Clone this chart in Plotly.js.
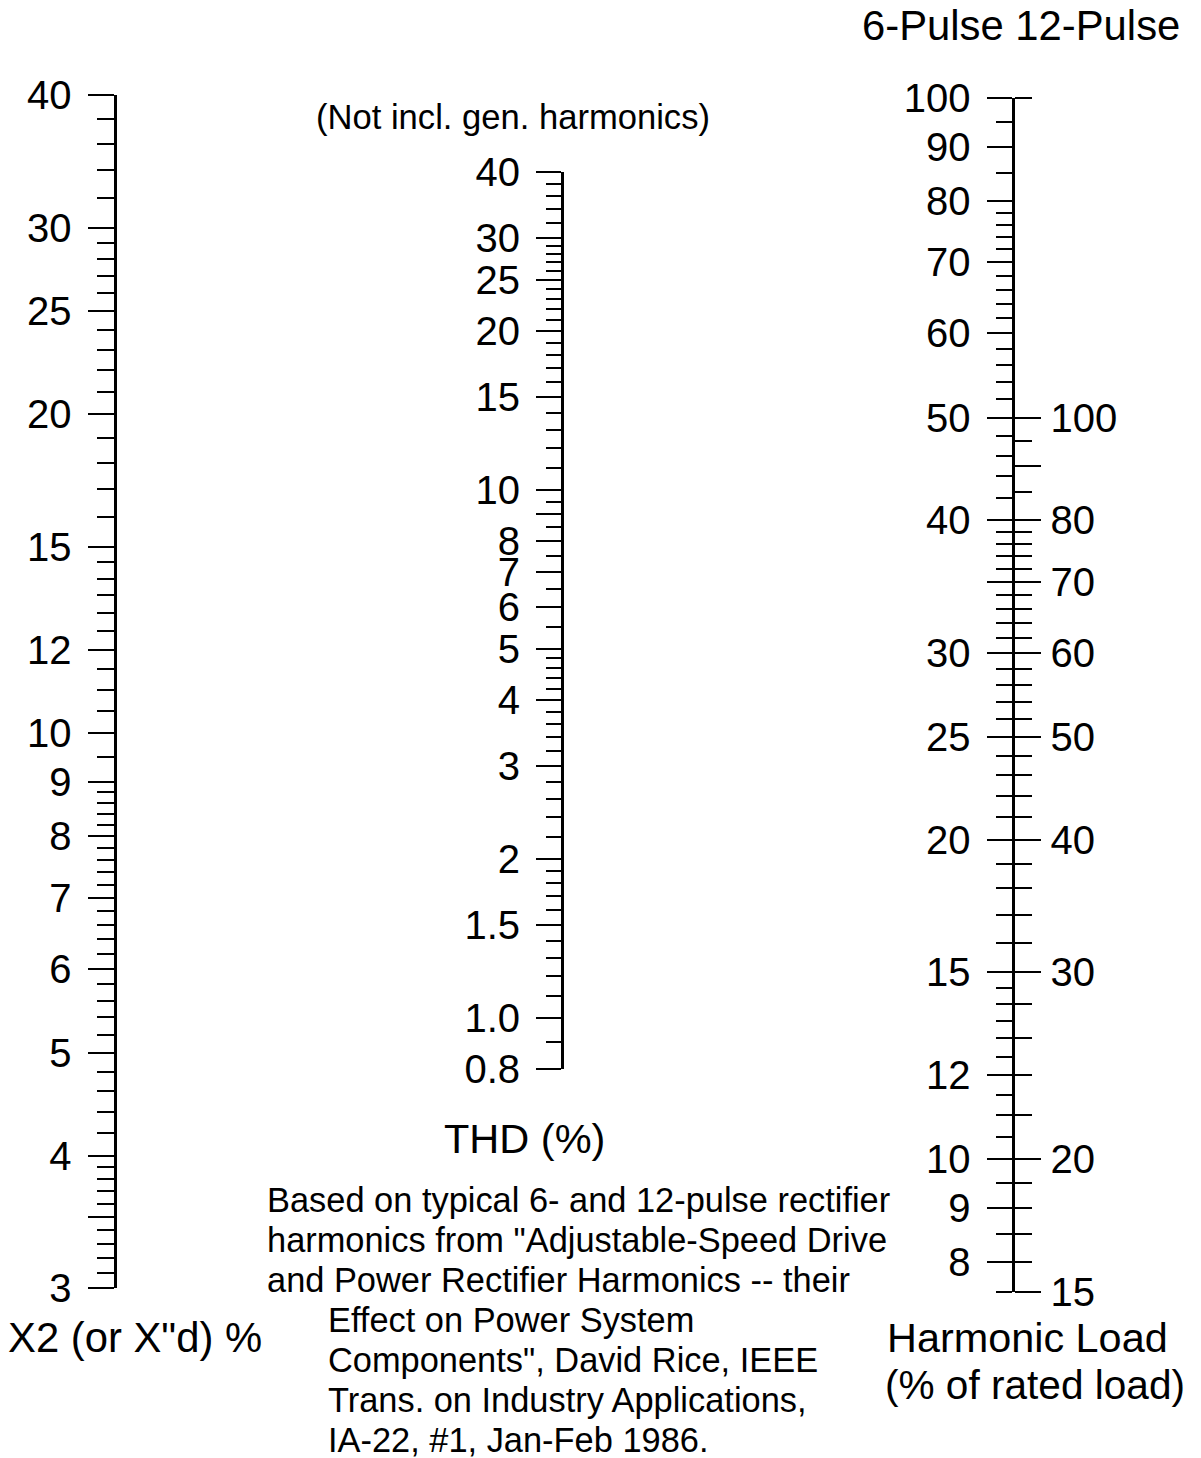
<!DOCTYPE html>
<html><head><meta charset="utf-8">
<script src="https://cdn.plot.ly/plotly-3.0.1.min.js"></script>
<style>html,body{margin:0;padding:0;background:#fff;} #chart{width:1201px;height:1458px;}</style>
</head><body><div id="chart"></div>
<script>
const W = 1201, H = 1458;
const FONT = 'Liberation Sans, Arial, Helvetica, sans-serif';

// ---- Left scale: X2 (or X"d) %
const x2Range = [3, 40];
const x2Labeled = [3, 4, 5, 6, 7, 8, 9, 10, 12, 15, 20, 25, 30, 40];
const x2Text = ['3', '4', '5', '6', '7', '8', '9', '10', '12', '15', '20', '25', '30', '40'];
const x2Unlabeled = [3.5];
const x2Minor = [3.1, 3.2, 3.3, 3.4, 3.6, 3.7, 3.8, 3.9, 4.2, 4.4, 4.6, 4.8, 5.2, 5.4, 5.6, 5.8,
  6.2, 6.4, 6.6, 6.8, 7.2, 7.4, 7.6, 7.8, 8.2, 8.4, 8.6, 8.8, 9.5, 10.5, 11, 11.5,
  12.5, 13, 13.5, 14, 14.5, 16, 17, 18, 19, 21, 22, 23, 24, 26, 27, 28, 29, 32, 34, 36, 38];

// ---- Middle scale: THD (%)
const thdRange = [0.8, 40];
const thdLabeled = [0.8, 1.0, 1.5, 2, 3, 4, 5, 6, 7, 8, 10, 15, 20, 25, 30, 40];
const thdText = ['0.8', '1.0', '1.5', '2', '3', '4', '5', '6', '7', '8', '10', '15', '20', '25', '30', '40'];
const thdUnlabeled = [9];
const thdMinor = [0.9, 1.1, 1.2, 1.3, 1.4, 1.6, 1.7, 1.8, 1.9, 2.2, 2.4, 2.6, 2.8, 3.2, 3.4, 3.6, 3.8,
  4.2, 4.4, 4.6, 4.8, 5.5, 6.5, 7.5, 8.5, 9.5, 11, 12, 13, 14, 16, 17, 18, 19, 21, 22, 23, 24,
  26, 27, 28, 29, 32, 34, 36, 38];

// ---- Right scale, left side: 6-Pulse harmonic load
const p6Range = [7.5, 100];
const p6Labeled = [8, 9, 10, 12, 15, 20, 25, 30, 40, 50, 60, 70, 80, 90, 100];
const p6Text = ['8', '9', '10', '12', '15', '20', '25', '30', '40', '50', '60', '70', '80', '90', '100'];
const p6Unlabeled = [35];
const p6Minor = [7.5, 8.5, 9.5, 10.5, 11, 11.5, 12.5, 13, 13.5, 14, 14.5, 16, 17, 18, 19, 21, 22, 23, 24,
  26, 27, 28, 29, 31, 32, 33, 34, 36, 37, 38, 39, 42, 44, 46, 48, 52, 54, 56, 58, 62, 64, 66, 68,
  72, 74, 76, 78, 85, 95];

// ---- Right scale, right side: 12-Pulse harmonic load
const p12Range = [15, 200];
const p12Labeled = [15, 20, 30, 40, 50, 60, 70, 80, 100];
const p12Text = ['15', '20', '30', '40', '50', '60', '70', '80', '100'];
const p12Unlabeled = [90];
const p12Minor = [16, 17, 18, 19, 22, 24, 26, 28, 32, 34, 36, 38, 42, 44, 46, 48, 52, 54, 56, 58,
  62, 64, 66, 68, 72, 74, 76, 78, 85, 95, 200];

// ---- Texts
const topRightLabel = '6-Pulse 12-Pulse';
const thdNote = '(Not incl. gen. harmonics)';
const thdTitle = 'THD (%)';
const x2Title = 'X2 (or X"d) %';
const loadTitle1 = 'Harmonic Load';
const loadTitle2 = '(% of rated load)';
const sourceLines = [
  'Based on typical 6- and 12-pulse rectifier',
  'harmonics from "Adjustable-Speed Drive',
  'and Power Rectifier Harmonics -- their',
  'Effect on Power System',
  'Components", David Rice, IEEE',
  'Trans. on Industry Applications,',
  'IA-22, #1, Jan-Feb 1986.'
];

function logAxis(range, yTop, yBot, xPos, side, labeled, text, unl, minor, len, mlen, standoff) {
  return {
    type: 'log',
    range: [Math.log10(range[0]), Math.log10(range[1])],
    domain: [1 - yBot / H, 1 - yTop / H],
    anchor: 'free', position: xPos / W, side: side,
    showline: true, linecolor: '#000', linewidth: 3,
    showgrid: false, zeroline: false,
    ticks: 'outside', ticklen: len, tickwidth: 2, tickcolor: '#000',
    tickmode: 'array',
    tickvals: labeled.concat(unl),
    ticktext: text.concat(unl.map(() => '')),
    tickfont: {family: FONT, size: 40, color: '#000'},
    ticklabelstandoff: standoff,
    minor: {tickmode: 'array', tickvals: minor, ticks: 'outside', ticklen: mlen, tickwidth: 2, tickcolor: '#000', showgrid: false},
    fixedrange: true
  };
}
function hiddenX(i) {
  return {visible: false, domain: [0, 1], range: [0, 1], anchor: 'y' + (i === 1 ? '' : i), fixedrange: true, showgrid: false, zeroline: false};
}

const layout = {
  width: W, height: H,
  margin: {l: 0, r: 0, t: 0, b: 0, pad: 0},
  paper_bgcolor: '#fff', plot_bgcolor: 'rgba(0,0,0,0)',
  showlegend: false,
  font: {family: FONT, color: '#000'},
  xaxis: hiddenX(1), xaxis2: hiddenX(2), xaxis3: hiddenX(3), xaxis4: hiddenX(4),
  yaxis: logAxis(x2Range, 95, 1288, 114.5, 'left', x2Labeled, x2Text, x2Unlabeled, x2Minor, 26, 17, 8),
  yaxis2: logAxis(thdRange, 172, 1069, 562, 'left', thdLabeled, thdText, thdUnlabeled, thdMinor, 25, 15, 8),
  yaxis3: logAxis(p6Range, 98, 1292, 1012.5, 'left', p6Labeled, p6Text, p6Unlabeled, p6Minor, 25, 16, 8),
  yaxis4: logAxis(p12Range, 98, 1292, 1012.5, 'right', p12Labeled, p12Text, p12Unlabeled, p12Minor, 26, 17, 2),
  annotations: []
};

function note(text, px, py, size, anchor) {
  return {text: text, xref: 'paper', yref: 'paper', x: px / W, y: 1 - py / H,
    xanchor: anchor || 'left', yanchor: 'middle', showarrow: false,
    font: {family: FONT, size: size, color: '#000'}};
}
layout.annotations.push(note(topRightLabel, 860, 25, 41.8));
layout.annotations.push(note(thdNote, 314, 117, 34.6));
layout.annotations.push(note(thdTitle, 442, 1138, 41.5));
layout.annotations.push(note(x2Title, 6, 1337, 41.8));
layout.annotations.push(note(loadTitle1, 885, 1338, 41.4));
layout.annotations.push(note(loadTitle2, 883, 1385, 40.6));
sourceLines.forEach((s, i) => {
  layout.annotations.push(note(s, i < 3 ? 265 : 326, 1200 + 40 * i, 34.4));
});

function dummy(vals, i) {
  const s = i === 1 ? '' : String(i);
  return {type: 'scatter', mode: 'markers', y: vals, xaxis: 'x' + s, yaxis: 'y' + s,
    marker: {opacity: 0, size: 1}, hoverinfo: 'skip', showlegend: false, cliponaxis: true};
}
const data = [dummy(x2Labeled, 1), dummy(thdLabeled, 2), dummy(p6Labeled, 3), dummy(p12Labeled, 4)];

Plotly.newPlot('chart', data, layout, {staticPlot: true, displayModeBar: false});
</script>
</body></html>
